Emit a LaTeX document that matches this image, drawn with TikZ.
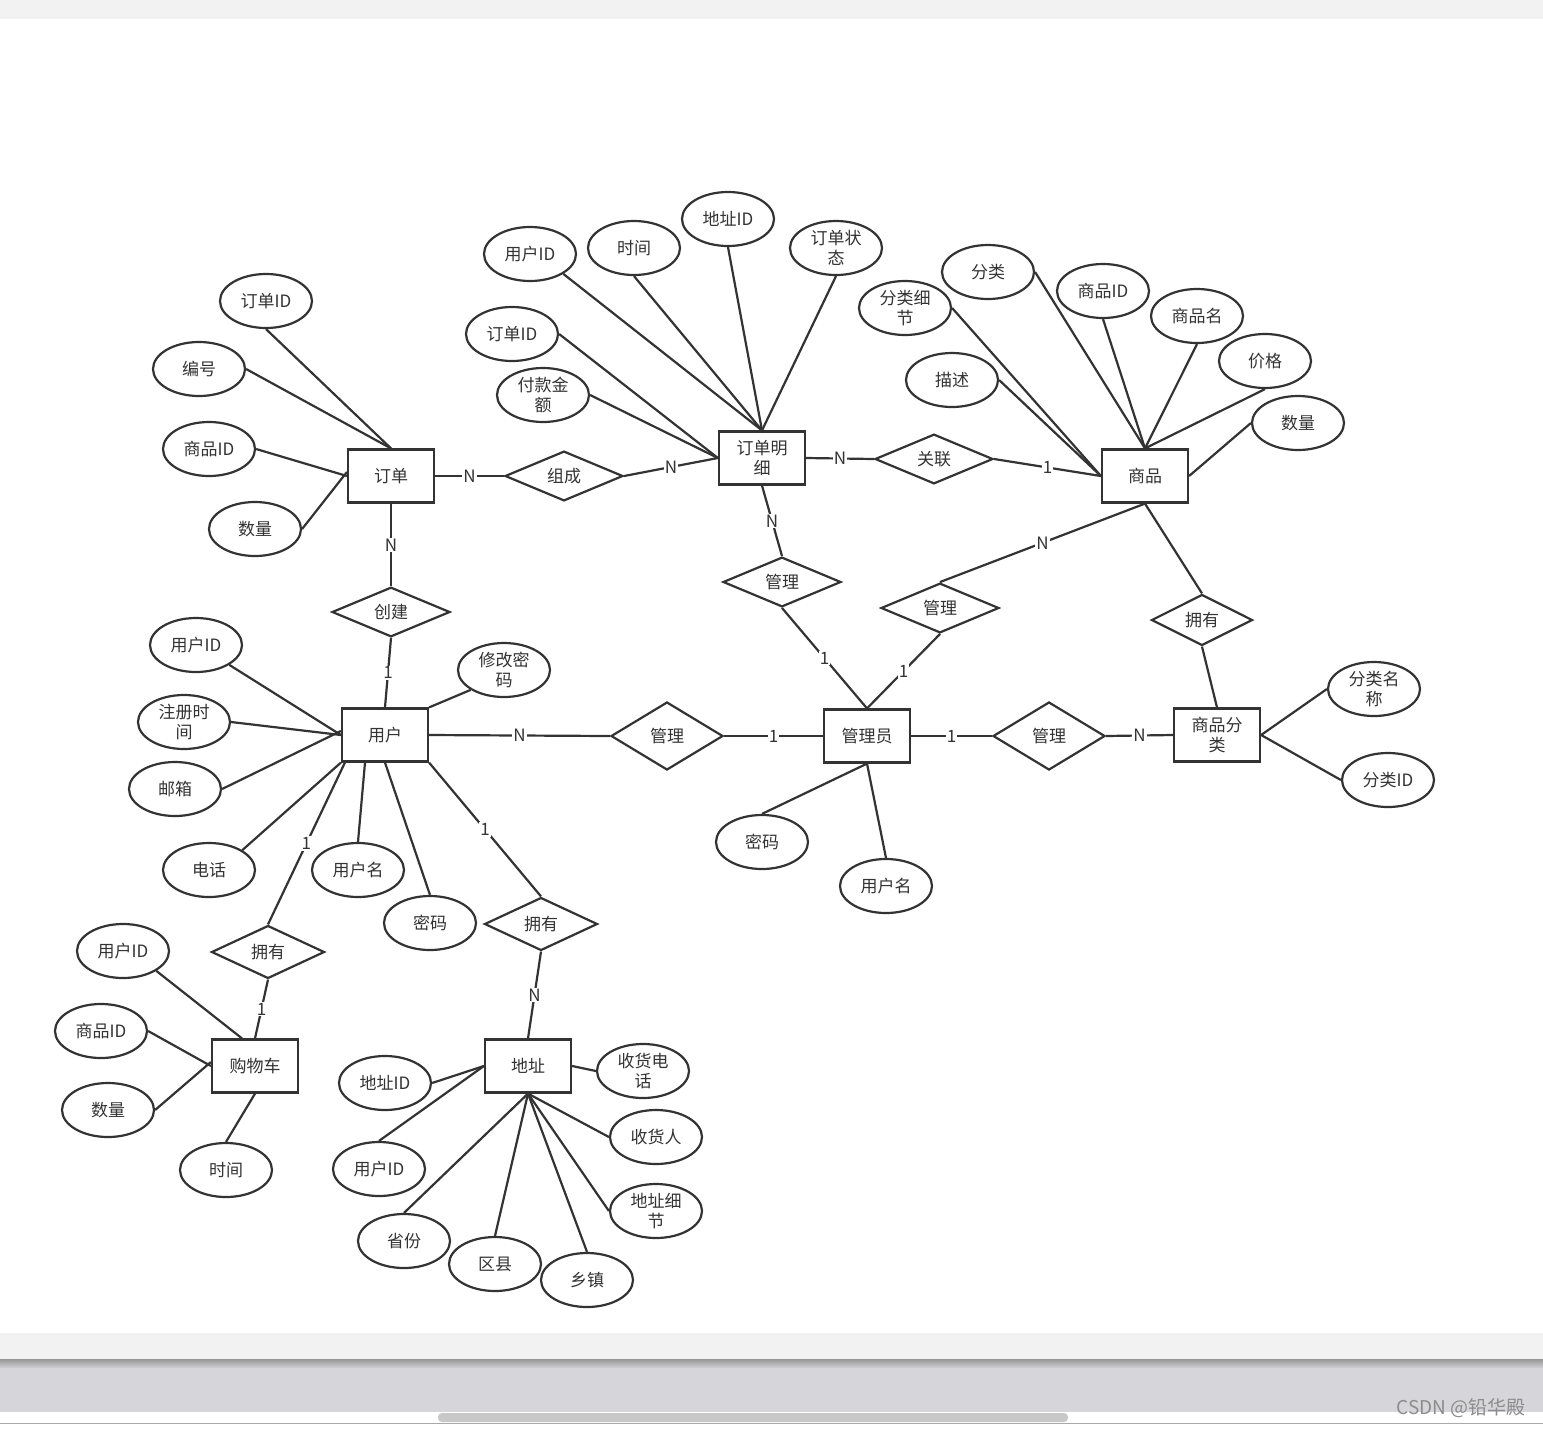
\documentclass[tikz,border=0pt]{standalone}
\usepackage{fontspec}
\setmainfont{Noto Sans CJK SC}
\usetikzlibrary{shapes.geometric}
\definecolor{ink}{HTML}{333333}
\definecolor{bandgray}{HTML}{F2F2F2}
\definecolor{shadetop}{HTML}{969696}
\definecolor{shadebot}{HTML}{D2D2D6}
\definecolor{barfill}{HTML}{D6D6DA}
\definecolor{thumb}{HTML}{C8C8C8}
\definecolor{rule}{HTML}{AAAAAA}
\definecolor{wmark}{HTML}{8C8C8C}
\tikzset{
  every node/.style={font=\fontsize{17}{20}\selectfont, text=ink},
  ent/.style={draw=ink, line width=2.2pt, rectangle, minimum width=86pt, minimum height=53pt, inner sep=0pt, align=center, fill=white},
  attr/.style={draw=ink, line width=2.2pt, ellipse, minimum width=92pt, minimum height=54pt, inner sep=0pt, align=center, fill=white},
  rel/.style={draw=ink, line width=2.2pt, diamond, minimum width=118pt, minimum height=42pt, inner sep=0pt, fill=white},
  bigrel/.style={rel, minimum width=112pt, minimum height=68pt},
  midrel/.style={rel, minimum width=113pt, minimum height=53pt},
  link/.style={draw=ink, line width=2.2pt},
  card/.style={fill=white, inner sep=1pt, pos=0.5, font=\fontsize{17}{18}\selectfont},
}
\begin{document}
\begin{tikzpicture}[x=1pt,y=-1pt]
\useasboundingbox (0,0) rectangle (1543,1428);
\fill[white] (0,0) rectangle (1543,1428);
\fill[bandgray] (0,0) rectangle (1543,19);
\fill[bandgray] (0,1333) rectangle (1543,1359);
\shade[top color=shadetop, bottom color=shadebot] (0,1359) rectangle (1543,1368);
\fill[barfill] (0,1368) rectangle (1543,1412);
\fill[thumb, rounded corners=4pt] (438,1413) rectangle (1068,1422);
\draw[rule, line width=1pt] (0,1423.5) -- (1543,1423.5);
\node[anchor=east, text=wmark, font=\fontsize{19}{20}\selectfont] (wm) at (1529,1408) {CSDN @铅华殿};

% entities
\node[ent] (dd) at (391,476) {订单};
\node[ent] (odm) at (762,458) {订单明\\细};
\node[ent] (sp) at (1145,476) {商品};
\node[ent] (yh) at (385,735) {用户};
\node[ent] (gly) at (867,736) {管理员};
\node[ent] (spfl) at (1217,735) {商品分\\类};
\node[ent] (gwc) at (255,1066) {购物车};
\node[ent] (dz) at (528,1066) {地址};

% relationships
\node[rel] (zc) at (564,476) {组成};
\node[rel] (gl1) at (934,459) {关联};
\node[rel] (cj) at (391,612) {创建};
\node[rel] (gla) at (782,582) {管理};
\node[rel] (glb) at (940,608) {管理};
\node[rel, minimum width=101pt, minimum height=51pt] (yyc) at (1202,620) {拥有};
\node[bigrel] (glc) at (667,736) {管理};
\node[bigrel] (gld) at (1049,736) {管理};
\node[midrel] (yya) at (268,952) {拥有};
\node[midrel] (yyb) at (541,924) {拥有};

% attributes
\node[attr] (a1) at (266,301) {订单ID};
\node[attr] (a2) at (199,369) {编号};
\node[attr] (a3) at (209,449) {商品ID};
\node[attr] (a4) at (255,529) {数量};
\node[attr] (b1) at (530,254) {用户ID};
\node[attr] (b2) at (634,248) {时间};
\node[attr] (b3) at (728,219) {地址ID};
\node[attr] (b4) at (836,248) {订单状\\态};
\node[attr] (b5) at (512,334) {订单ID};
\node[attr] (b6) at (543,395) {付款金\\额};
\node[attr] (c1) at (905,308) {分类细\\节};
\node[attr] (c2) at (988,272) {分类};
\node[attr] (c3) at (1103,291) {商品ID};
\node[attr] (c4) at (1197,316) {商品名};
\node[attr] (c5) at (1265,361) {价格};
\node[attr] (c6) at (1298,423) {数量};
\node[attr] (c7) at (952,380) {描述};
\node[attr] (d1) at (196,645) {用户ID};
\node[attr] (d2) at (504,670) {修改密\\码};
\node[attr] (d3) at (184,722) {注册时\\间};
\node[attr] (d4) at (175,789) {邮箱};
\node[attr] (d5) at (209,870) {电话};
\node[attr] (d6) at (358,870) {用户名};
\node[attr] (d7) at (430,923) {密码};
\node[attr] (e1) at (1374,689) {分类名\\称};
\node[attr] (e2) at (1388,780) {分类ID};
\node[attr] (f1) at (762,842) {密码};
\node[attr] (f2) at (886,886) {用户名};
\node[attr] (g1) at (123,951) {用户ID};
\node[attr] (g2) at (101,1031) {商品ID};
\node[attr] (g3) at (108,1110) {数量};
\node[attr] (g4) at (226,1170) {时间};
\node[attr] (h1) at (385,1083) {地址ID};
\node[attr] (h2) at (643,1071) {收货电\\话};
\node[attr] (h3) at (656,1137) {收货人};
\node[attr] (h4) at (656,1211) {地址细\\节};
\node[attr] (h5) at (379,1169) {用户ID};
\node[attr] (h6) at (404,1241) {省份};
\node[attr] (h7) at (495,1264) {区县};
\node[attr] (h8) at (587,1280) {乡镇};

% attribute links
\draw[link] (a1.south) -- (dd.north);
\draw[link] (a2.east) -- (dd.north);
\draw[link] (a3.east) -- (dd.west);
\draw[link] (a4.east) -- ([yshift=4pt]dd.west);
\draw[link] (b1.south east) -- (odm.north);
\draw[link] (b2.south) -- (odm.north);
\draw[link] (b3.south) -- (odm.north);
\draw[link] (b4.south) -- (odm.north);
\draw[link] (b5.east) -- (odm.west);
\draw[link] (b6.east) -- (odm.west);
\draw[link] (c1.east) -- (sp.west);
\draw[link] (c7.east) -- (sp.west);
\draw[link] (c2.east) -- (sp.north);
\draw[link] (c3.south) -- (sp.north);
\draw[link] (c4.south) -- (sp.north);
\draw[link] (c5.south) -- (sp.north);
\draw[link] (c6.west) -- (sp.east);
\draw[link] (d1.south east) -- (yh.west);
\draw[link] (d3.east) -- (yh.west);
\draw[link] (d4.east) -- ([yshift=4pt]yh.west);
\draw[link] (d5.north east) -- (yh.south west);
\draw[link] (d6.north) -- ([xshift=-20pt]yh.south);
\draw[link] (d7.north) -- (yh.south);
\draw[link] (d2.south west) -- (yh.north east);
\draw[link] (e1.west) -- (spfl.east);
\draw[link] (e2.west) -- (spfl.east);
\draw[link] (f1.north) -- (gly.south);
\draw[link] (f2.north) -- (gly.south);
\draw[link] (g1.south east) -- ([xshift=-13pt]gwc.north);
\draw[link] (g2.east) -- (gwc.west);
\draw[link] (g3.east) -- ([yshift=4pt]gwc.west);
\draw[link] (g4.north) -- (gwc.south);
\draw[link] (h1.east) -- (dz.west);
\draw[link] (h5.north) -- (dz.west);
\draw[link] (h2.west) -- (dz.east);
\draw[link] (h3.west) -- (dz.south);
\draw[link] (h4.west) -- (dz.south);
\draw[link] (h6.north) -- (dz.south);
\draw[link] (h7.north) -- (dz.south);
\draw[link] (h8.north) -- (dz.south);

% relationship links
\draw[link] (dd.east) -- node[card]{N} (zc.west);
\draw[link] (zc.east) -- node[card]{N} (odm.west);
\draw[link] (odm.east) -- node[card]{N} (gl1.west);
\draw[link] (gl1.east) -- node[card]{1} (sp.west);
\draw[link] (dd.south) -- node[card]{N} (cj.north);
\draw[link] (cj.south) -- node[card]{1} (yh.north);
\draw[link] (odm.south) -- node[card]{N} (gla.north);
\draw[link] (gla.south) -- node[card]{1} (gly.north);
\draw[link] (glb.south) -- node[card]{1} (gly.north);
\draw[link] (sp.south) -- node[card]{N} (glb.north);
\draw[link] (sp.south) -- (yyc.north);
\draw[link] (yyc.south) -- (spfl.north);
\draw[link] ([xshift=4pt]yh.south west) -- node[card]{1} (yya.north);
\draw[link] (yh.south east) -- node[card]{1} (yyb.north);
\draw[link] (yh.east) -- node[card]{N} (glc.west);
\draw[link] (glc.east) -- node[card]{1} (gly.west);
\draw[link] (gly.east) -- node[card]{1} (gld.west);
\draw[link] (gld.east) -- node[card]{N} (spfl.west);
\draw[link] (yya.south) -- node[card]{1} (gwc.north);
\draw[link] (yyb.south) -- node[card]{N} (dz.north);
\end{tikzpicture}
\end{document}
